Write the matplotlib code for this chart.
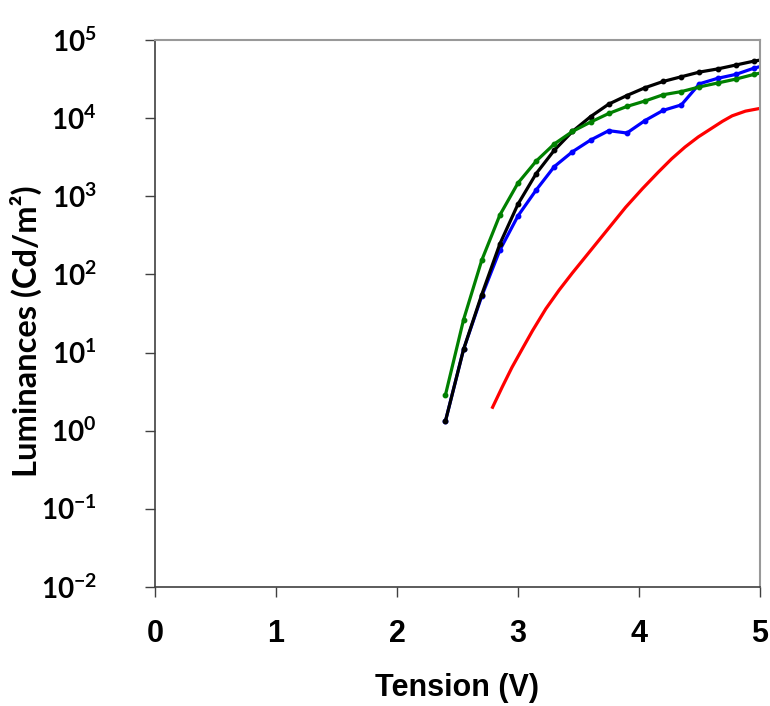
import numpy as np
import matplotlib
matplotlib.use("Agg")
import matplotlib.pyplot as plt

plt.rcParams['font.family'] = ['Liberation Sans', 'DejaVu Sans']
plt.rcParams['font.weight'] = 'bold'
plt.rcParams['mathtext.fontset'] = 'custom'
plt.rcParams['mathtext.rm'] = 'Lato:bold'
plt.rcParams['mathtext.bf'] = 'Lato:bold'

# tension (V) for the marked curves
v_mark = [2.4, 2.55, 2.7, 2.85, 3.0, 3.15, 3.3, 3.45, 3.6, 3.75, 3.9,
          4.05, 4.2, 4.35, 4.5, 4.65, 4.8, 4.95, 5.1]

# log10 of luminance
log_black = [0.12, 1.04, 1.74, 2.39, 2.90, 3.29, 3.59, 3.83, 4.02, 4.18, 4.29,
             4.39, 4.47, 4.53, 4.59, 4.63, 4.68, 4.73, 4.77]
log_green = [0.455, 1.42, 2.18, 2.76, 3.17, 3.45, 3.67, 3.83, 3.95, 4.06, 4.15,
             4.22, 4.30, 4.34, 4.40, 4.45, 4.50, 4.56, 4.61]
log_blue = [0.12, 1.04, 1.72, 2.31, 2.75, 3.08, 3.38, 3.57, 3.72, 3.84, 3.81,
            3.97, 4.10, 4.17, 4.44, 4.51, 4.56, 4.64, 4.70]

# red curve (no markers)
v_red = [2.79, 2.87, 2.95, 3.04, 3.12, 3.23, 3.34, 3.45, 3.56, 3.67, 3.78,
         3.89, 4.03, 4.16, 4.27, 4.38, 4.49, 4.60, 4.69, 4.77, 4.88, 5.0]
log_red = [0.30, 0.56, 0.81, 1.06, 1.28, 1.56, 1.80, 2.02, 2.23, 2.44, 2.65,
           2.86, 3.10, 3.31, 3.48, 3.63, 3.76, 3.87, 3.96, 4.03, 4.09, 4.125]

fig = plt.figure(figsize=(7.7, 7.06), dpi=100)
ax = fig.add_axes([0.2013, 0.1686, 0.7857, 0.7747])

ax.plot(v_red, 10 ** np.array(log_red), color='#FF0000', lw=2.3)
ax.plot(v_mark, 10 ** np.array(log_blue), color='#0000FF', lw=2.3, marker='o', ms=3.2)
ax.plot(v_mark, 10 ** np.array(log_black), color='black', lw=2.3, marker='o', ms=3.2)
ax.plot(v_mark, 10 ** np.array(log_green), color='#008000', lw=2.3, marker='o', ms=3.2)

ax.set_yscale('log')
ax.set_xlim(0, 5)
ax.set_ylim(1e-2, 1e5)

ax.set_xticks([0, 1, 2, 3, 4, 5])
ax.set_xticklabels(['0', '1', '2', '3', '4', '5'], fontsize=22, fontweight='bold')
yt = [1e-2, 1e-1, 1e0, 1e1, 1e2, 1e3, 1e4, 1e5]
ax.set_yticks(yt)
ax.set_yticklabels([r'$\mathbf{10^{%d}}$' % int(np.log10(t)) for t in yt], fontsize=20)
ax.yaxis.set_minor_locator(matplotlib.ticker.NullLocator())

ax.tick_params(axis='both', direction='out', length=7, width=1, color='#404040')
ax.tick_params(axis='x', pad=16)
ax.tick_params(axis='y', pad=35)

for s in ['left', 'bottom']:
    ax.spines[s].set_color('#404040')
    ax.spines[s].set_linewidth(1.2)
for s in ['top', 'right']:
    ax.spines[s].set_color('#999999')
    ax.spines[s].set_linewidth(1.5)

ax.set_xlabel('Tension (V)', fontsize=22, fontweight='bold', labelpad=17)
ax.set_ylabel('Luminances (Cd/m²)', fontsize=23.5, fontweight='bold', family=['Lato', 'DejaVu Sans'])
ax.yaxis.set_label_coords(-0.186, 0.468)

fig.savefig('out.png', dpi=100)
